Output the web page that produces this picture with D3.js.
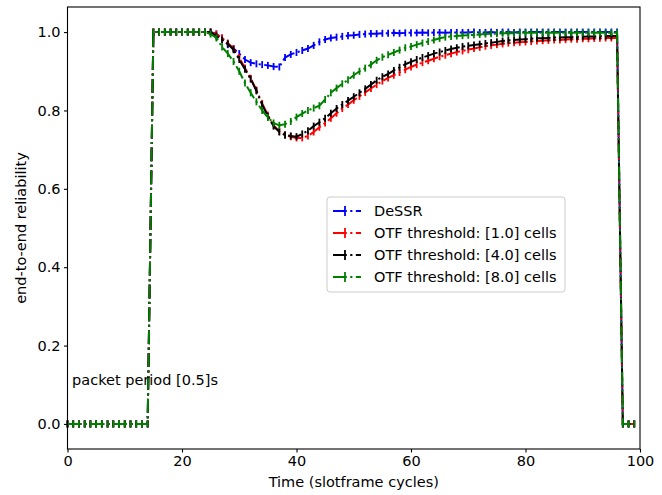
<!DOCTYPE html>
<html>
<head>
<meta charset="utf-8">
<script src="https://cdn.jsdelivr.net/npm/d3@7"></script>
<style>
  body { margin: 0; background: #fff; }
  svg text { font-family: "DejaVu Sans", sans-serif; }
</style>
</head>
<body>
<div id="chart"></div>
<script>
// time axis (slotframe cycles), one sample per cycle
const time = [0,1,2,3,4,5,6,7,8,9,10,11,12,13,14,15,16,17,18,19,20,21,22,23,24,25,26,27,28,29,30,31,32,33,34,35,36,37,38,39,40,41,42,43,44,45,46,47,48,49,50,51,52,53,54,55,56,57,58,59,60,61,62,63,64,65,66,67,68,69,70,71,72,73,74,75,76,77,78,79,80,81,82,83,84,85,86,87,88,89,90,91,92,93,94,95,96,97,98,99];

const dessr = [0,0,0,0,0,0,0,0,0,0,0,0,0,0,0, 1,1,1,1,1,1,1,1,1,1,
  1.0,0.995,0.985,0.968,0.958,0.945,0.93,0.922,0.919,0.917,
  0.915,0.912,0.911,0.935,0.943,0.948,0.953,0.958,0.966,0.975,
  0.981,0.985,0.987,0.989,0.991,0.992,0.994,0.995,0.996,0.996,
  0.997,0.997,0.998,0.997,0.998,0.998,0.998,0.999,0.998,0.999,
  0.999,0.998,0.999,0.999,0.999,0.999,1.0,0.999,0.999,1.0,
  0.999,1.0,1.0,0.999,1.0,1.0,1.0,1.0,1.0,1.0,
  1.0,1.0,1.0,1.0,1.0,1.0,1.0,1.0,1.0,1.0,
  1.0,1.0, 0,0,0];

const otf1 = [0,0,0,0,0,0,0,0,0,0,0,0,0,0,0, 1,1,1,1,1,1,1,1,1,1,
  1.0,0.995,0.985,0.972,0.958,0.935,0.908,0.882,0.852,0.818,
  0.788,0.762,0.747,0.738,0.733,0.73,0.73,0.735,0.745,0.757,
  0.768,0.78,0.793,0.805,0.815,0.826,0.836,0.846,0.856,0.866,
  0.875,0.883,0.89,0.897,0.904,0.911,0.917,0.922,0.927,0.932,
  0.937,0.941,0.945,0.949,0.952,0.955,0.958,0.961,0.964,0.966,
  0.968,0.97,0.972,0.973,0.974,0.975,0.976,0.977,0.978,0.979,
  0.98,0.98,0.981,0.982,0.982,0.983,0.983,0.984,0.984,0.985,
  0.985,0.985, 0,0,0];

const otf4 = [0,0,0,0,0,0,0,0,0,0,0,0,0,0,0, 1,1,1,1,1,1,1,1,1,1,
  1.0,0.99,0.98,0.97,0.955,0.93,0.905,0.88,0.85,0.815,
  0.785,0.76,0.745,0.737,0.735,0.733,0.74,0.748,0.76,0.77,
  0.78,0.793,0.805,0.815,0.825,0.835,0.845,0.855,0.866,0.877,
  0.886,0.893,0.902,0.91,0.918,0.924,0.93,0.935,0.94,0.945,
  0.949,0.953,0.957,0.96,0.963,0.965,0.967,0.969,0.971,0.973,
  0.975,0.977,0.979,0.98,0.981,0.982,0.983,0.984,0.984,0.985,
  0.986,0.986,0.987,0.987,0.988,0.988,0.989,0.989,0.99,0.99,
  0.99,0.99, 0,0,0];

const otf8 = [0,0,0,0,0,0,0,0,0,0,0,0,0,0,0, 1,1,1,1,1,1,1,1,1,1,
  0.995,0.985,0.962,0.945,0.925,0.9,0.87,0.845,0.822,0.8,
  0.782,0.768,0.762,0.765,0.772,0.783,0.792,0.8,0.806,0.812,
  0.828,0.845,0.857,0.868,0.878,0.89,0.9,0.908,0.917,0.928,
  0.936,0.942,0.948,0.954,0.96,0.963,0.968,0.972,0.976,0.98,
  0.984,0.987,0.989,0.99,0.991,0.992,0.993,0.994,0.995,0.996,
  0.996,0.997,0.997,0.997,0.998,0.998,0.998,0.998,0.998,0.998,
  0.998,0.998,0.998,0.998,0.998,0.998,0.998,0.998,0.998,0.998,
  0.998,0.998, 0,0,0];

const errorBar = 0.009;

const seriesNames = ["DeSSR", "OTF threshold: [1.0] cells", "OTF threshold: [4.0] cells", "OTF threshold: [8.0] cells"];
const seriesValues = [dessr, otf1, otf4, otf8];
const seriesColors = ["#0000ff", "#ff0000", "#000000", "#008000"];

const xTicks = [0, 20, 40, 60, 80, 100];
const yTicks = [0.0, 0.2, 0.4, 0.6, 0.8, 1.0];

const w = 662;
const h = 495;
const padL = 67.5, padR = 640, padT = 7, padB = 449;
const fontSize = 14.5;
const dash = "13.8,3.45,2.15,3.45";

const xScale = d3.scaleLinear().domain([0, 100]).range([padL, padR]);
const yScale = d3.scaleLinear().domain([-0.064, 1.064]).range([padB, padT]);

const svg = d3.select("#chart")
  .append("svg")
  .attr("width", w)
  .attr("height", h);

// series lines + error bars
seriesValues.forEach((vals, i) => {
  const pts = time.map((t, j) => [t, vals[j]]);
  const g = svg.append("g");

  g.selectAll("line")
    .data(pts)
    .enter()
    .append("line")
    .attr("x1", d => xScale(d[0]))
    .attr("x2", d => xScale(d[0]))
    .attr("y1", d => yScale(d[1] - errorBar))
    .attr("y2", d => yScale(d[1] + errorBar))
    .attr("stroke", seriesColors[i])
    .attr("stroke-width", 1.8);

  g.append("path")
    .datum(pts)
    .attr("fill", "none")
    .attr("stroke", seriesColors[i])
    .attr("stroke-width", 2)
    .attr("stroke-dasharray", dash)
    .attr("d", d3.line().x(d => xScale(d[0])).y(d => yScale(d[1])));
});

// axes
const xAxis = d3.axisBottom(xScale).tickValues(xTicks).tickSize(3.5).tickPadding(3.5).tickFormat(d3.format("d"));
const yAxis = d3.axisLeft(yScale).tickValues(yTicks).tickSize(3.5).tickPadding(3.5).tickFormat(d3.format(".1f"));

svg.append("g")
  .attr("transform", "translate(0," + padB + ")")
  .call(xAxis)
  .call(g => g.select(".domain").remove());

svg.append("g")
  .attr("transform", "translate(" + padL + ",0)")
  .call(yAxis)
  .call(g => g.select(".domain").remove());

svg.selectAll(".tick text")
  .attr("font-size", fontSize)
  .attr("font-family", "DejaVu Sans")
  .attr("fill", "#000");
svg.selectAll(".tick line").attr("stroke", "#000").attr("stroke-width", 1.1);

svg.append("rect")
  .attr("x", padL)
  .attr("y", padT)
  .attr("width", padR - padL)
  .attr("height", padB - padT)
  .attr("fill", "none")
  .attr("stroke", "#000")
  .attr("stroke-width", 1.1);

svg.append("text")
  .attr("x", (padL + padR) / 2)
  .attr("y", 487)
  .attr("text-anchor", "middle")
  .attr("font-size", fontSize)
  .text("Time (slotframe cycles)");

svg.append("text")
  .attr("transform", "translate(26," + ((padT + padB) / 2) + ") rotate(-90)")
  .attr("text-anchor", "middle")
  .attr("font-size", fontSize)
  .text("end-to-end reliability");

svg.append("text")
  .attr("x", xScale(0.8))
  .attr("y", yScale(0.1))
  .attr("font-size", fontSize)
  .text("packet period [0.5]s");

// legend
const legend = svg.append("g");
legend.append("rect")
  .attr("x", 327)
  .attr("y", 197)
  .attr("width", 238)
  .attr("height", 95)
  .attr("rx", 3)
  .attr("fill", "#fff")
  .attr("fill-opacity", 0.8)
  .attr("stroke", "#cccccc")
  .attr("stroke-width", 1);

seriesNames.forEach((name, i) => {
  const cy = 211 + i * 22;
  legend.append("line")
    .attr("x1", 333).attr("x2", 361)
    .attr("y1", cy).attr("y2", cy)
    .attr("stroke", seriesColors[i])
    .attr("stroke-width", 2)
    .attr("stroke-dasharray", dash);
  legend.append("line")
    .attr("x1", 345).attr("x2", 345)
    .attr("y1", cy - 5).attr("y2", cy + 5)
    .attr("stroke", seriesColors[i])
    .attr("stroke-width", 1.8);
  legend.append("text")
    .attr("x", 374)
    .attr("y", cy + 5)
    .attr("font-size", fontSize)
    .text(name);
});
</script>
</body>
</html>
